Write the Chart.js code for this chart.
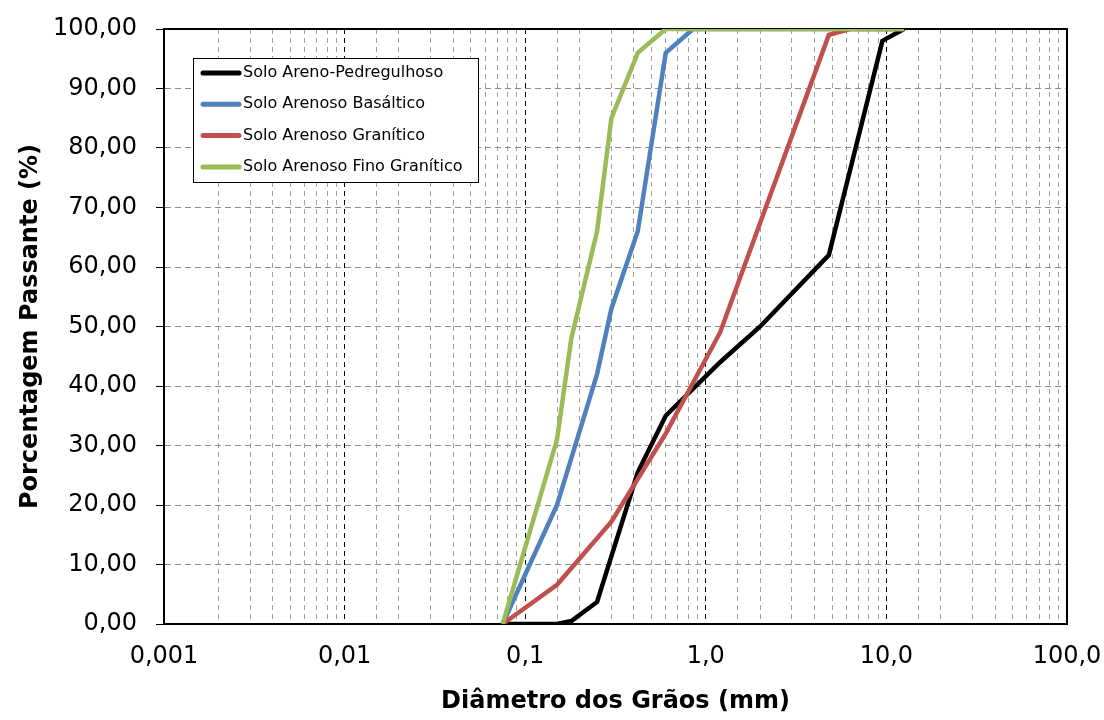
<!DOCTYPE html>
<html>
<head>
<meta charset="utf-8">
<script src="https://cdn.jsdelivr.net/npm/chart.js@4.4.1/dist/chart.umd.min.js"></script>
<style>
  body { margin: 0; background: #fff; }
  #wrap { width: 1104px; height: 720px; position: relative; }
</style>
</head>
<body>
<div id="wrap"><canvas id="myChart"></canvas></div>
<script>
// curva granulometrica - diametro (mm) x % passante
const seriesNames = ['Solo Areno-Pedregulhoso', 'Solo Arenoso Basáltico', 'Solo Arenoso Granítico', 'Solo Arenoso Fino Granítico'];
const seriesColors = ['#000000', '#4F81BD', '#C0504D', '#9BBB59'];

const pedregulhosoD = [0.075, 0.15, 0.18, 0.25, 0.42, 0.6, 1.2, 2.0, 4.8, 9.5, 12.5];
const pedregulhosoP = [0, 0, 0.5, 3.7, 25.5, 35, 44, 50, 62, 98, 100];

const basalticoD = [0.075, 0.15, 0.25, 0.3, 0.42, 0.6, 0.85, 12.5];
const basalticoP = [0, 20, 42, 53, 66, 96, 100, 100];

const graniticoD = [0.075, 0.15, 0.3, 0.6, 1.2, 4.8, 6.3, 12.5];
const graniticoP = [0, 6.6, 17.2, 32, 49, 99, 100, 100];

const finoD = [0.075, 0.15, 0.18, 0.25, 0.3, 0.42, 0.6, 12.5];
const finoP = [0, 31, 48, 66, 85, 96, 100, 100];

const xTickLabels = ['0,001', '0,01', '0,1', '1,0', '10,0', '100,0'];
const yTickLabels = ['0,00', '10,00', '20,00', '30,00', '40,00', '50,00', '60,00', '70,00', '80,00', '90,00', '100,00'];

const toPoints = (d, p) => d.map((v, i) => ({ x: v, y: p[i] }));
const allD = [pedregulhosoD, basalticoD, graniticoD, finoD];
const allP = [pedregulhosoP, basalticoP, graniticoP, finoP];

Chart.defaults.color = '#000';
Chart.defaults.font.family = '"DejaVu Sans", Arial, sans-serif';

// moldura da area do grafico (topo e direita tambem)
const frame = {
  id: 'frame',
  beforeDatasetsDraw(chart) {
    const { ctx, chartArea: a } = chart;
    ctx.save();
    ctx.strokeStyle = '#000';
    ctx.lineWidth = 2;
    ctx.strokeRect(a.left, a.top, a.right - a.left, a.bottom - a.top);
    ctx.restore();
  }
};

// legenda dentro do grafico, como no excel
const boxLegend = {
  id: 'boxLegend',
  afterDraw(chart) {
    const { ctx } = chart;
    ctx.save();
    ctx.fillStyle = '#fff';
    ctx.fillRect(193, 58, 285, 124);
    ctx.strokeStyle = '#000';
    ctx.lineWidth = 1;
    ctx.strokeRect(193.5, 58.5, 285, 124);
    ctx.font = '16px "DejaVu Sans", Arial, sans-serif';
    ctx.textBaseline = 'middle';
    ctx.textAlign = 'left';
    chart.data.datasets.forEach((ds, i) => {
      const y = 73 + i * 31.3;
      ctx.strokeStyle = ds.borderColor;
      ctx.lineWidth = 5;
      ctx.lineCap = 'round';
      ctx.beginPath();
      ctx.moveTo(203, y);
      ctx.lineTo(239, y);
      ctx.stroke();
      ctx.fillStyle = '#000';
      ctx.fillText(ds.label, 243, y);
    });
    ctx.restore();
  }
};

const isDecade = (v) => Math.abs(Math.log10(v) - Math.round(Math.log10(v))) < 1e-6;

const ctx = document.getElementById('myChart').getContext('2d');
new Chart(ctx, {
  type: 'line',
  data: {
    datasets: seriesNames.map((name, i) => ({
      label: name,
      data: toPoints(allD[i], allP[i]),
      borderColor: seriesColors[i],
      backgroundColor: seriesColors[i],
      borderWidth: 4.5,
      pointRadius: 0,
      tension: 0,
      fill: false,
      order: 3 - i
    }))
  },
  options: {
    responsive: true,
    maintainAspectRatio: false,
    animation: false,
    layout: { padding: { top: 29, right: 37, left: 0, bottom: 0 } },
    plugins: {
      legend: { display: false },
      tooltip: { enabled: false }
    },
    scales: {
      x: {
        type: 'logarithmic',
        min: 0.001,
        max: 100,
        afterFit: (s) => { s.height = 96; s.paddingLeft = 0; s.paddingRight = 0; },
        border: { display: true, color: '#000', width: 2, dash: [5, 4] },
        grid: {
          drawTicks: false,
          color: (c) => (c.tick && isDecade(c.tick.value)) ? '#000' : '#a0a0a0',
          lineWidth: 1
        },
        ticks: {
          autoSkip: false,
          maxRotation: 0,
          padding: 18,
          font: { size: 24 },
          callback: (v) => isDecade(v) ? xTickLabels[Math.round(Math.log10(v)) + 3] : ''
        },
        title: {
          display: true,
          text: 'Diâmetro dos Grãos (mm)',
          font: { size: 24, weight: 'bold' },
          padding: { top: 0, bottom: 4 }
        }
      },
      y: {
        min: 0,
        max: 100,
        afterFit: (s) => { s.width = 164; s.paddingTop = 0; s.paddingBottom = 0; },
        border: { display: true, color: '#000', width: 2, dash: [6, 4] },
        grid: {
          color: '#8c8c8c',
          lineWidth: 1,
          tickLength: 8,
          tickColor: '#000',
          tickBorderDash: []
        },
        ticks: {
          stepSize: 10,
          padding: 19,
          font: { size: 24 },
          callback: (v) => yTickLabels[Math.round(v / 10)]
        },
        title: {
          display: true,
          text: 'Porcentagem Passante (%)',
          font: { size: 24, weight: 'bold' },
          padding: { top: 16, bottom: 0 }
        }
      }
    }
  },
  plugins: [frame, boxLegend]
});
</script>
</body>
</html>
